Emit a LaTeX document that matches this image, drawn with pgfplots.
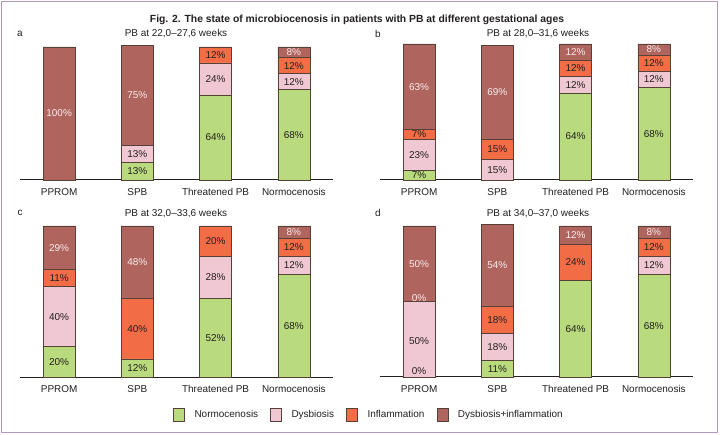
\documentclass[border=0pt]{standalone}
\usepackage{pgfplots}
\pgfplotsset{compat=1.18}
\usepackage{pgfplotstable}
\usepackage{fontspec}
\setmainfont{Liberation Sans}
\definecolor{cn}{RGB}{185,218,125}
\definecolor{cd}{RGB}{240,200,212}
\definecolor{ci}{RGB}{242,108,70}
\definecolor{cdi}{RGB}{176,100,94}
\definecolor{edge}{RGB}{85,65,55}
\definecolor{txt}{RGB}{35,31,32}
\definecolor{lighttxt}{RGB}{250,236,236}
\definecolor{framecol}{RGB}{180,152,192}

% segment values (percent) per category: x = 0 PPROM, 1 SPB, 2 Threatened PB, 3 Normocenosis
\pgfplotstableread{
x n d i di
0 0 0 0 100
1 13 13 0 75
2 64 24 12 0
3 68 12 12 8
}\tabA
\pgfplotstableread{
x n d i di
0 7 23 7 63
1 0 15 15 69
2 64 12 12 12
3 68 12 12 8
}\tabB
\pgfplotstableread{
x n d i di
0 20 40 11 29
1 12 0 40 48
2 52 28 20 0
3 68 12 12 8
}\tabC
\pgfplotstableread{
x n d i di
0 0 50 0 50
1 11 18 18 54
2 64 0 24 12
3 68 12 12 8
}\tabD

% label positions (segment middles) and texts
\pgfplotstableread{
x y lab
1 6.5 13\%
1 19.5 13\%
2 32 64\%
2 76 24\%
2 94 12\%
3 34 68\%
3 74 12\%
3 86 12\%
}\labAd
\pgfplotstableread{
x y lab
0 50 100\%
1 63.5 75\%
3 96 8\%
}\labAl
\pgfplotstableread{
x y lab
0 3.5 7\%
0 18.5 23\%
0 33.5 7\%
1 7.5 15\%
1 22.5 15\%
2 32 64\%
2 70 12\%
2 82 12\%
3 34 68\%
3 74 12\%
3 86 12\%
}\labBd
\pgfplotstableread{
x y lab
0 68.5 63\%
1 64.5 69\%
2 94 12\%
3 96 8\%
}\labBl
\pgfplotstableread{
x y lab
0 10 20\%
0 40 40\%
0 65.5 11\%
1 6 12\%
1 32 40\%
2 26 52\%
2 66 28\%
2 90 20\%
3 34 68\%
3 74 12\%
3 86 12\%
}\labCd
\pgfplotstableread{
x y lab
0 85.5 29\%
1 76 48\%
3 96 8\%
}\labCl
\pgfplotstableread{
x y lab
0 4.2 0\%
0 24 50\%
1 5.5 11\%
1 20 18\%
1 38 18\%
2 32 64\%
2 76 24\%
3 34 68\%
3 74 12\%
3 86 12\%
}\labDd
\pgfplotstableread{
x y lab
0 52.2 0\%
0 75 50\%
1 74 54\%
2 94 12\%
3 96 8\%
}\labDl

\pgfplotsset{
  panel/.style={
    scale only axis, width=313bp, xmin=-0.5, xmax=3.5, ymin=0, ymax=100,
    ybar stacked, bar width=32bp, clip=false,
    axis x line*=bottom, axis y line=none,
    x axis line style={line width=1bp, draw=txt},
    xtick={0,1,2,3}, xticklabels={PPROM,SPB,Threatened PB,Normocenosis},
    ytick=\empty,
    major tick length=0pt,
    xticklabel style={font=\fontsize{10}{12}\selectfont, text=txt, yshift=-5bp},
  },
  lblaxis/.style={
    scale only axis, width=313bp, xmin=-0.5, xmax=3.5, ymin=0, ymax=100,
    axis lines=none, xtick=\empty, ytick=\empty, clip=false,
  },
  lbl/.style={draw=none, mark=none, nodes near coords, point meta=explicit symbolic,
    every node near coord/.append style={anchor=center, inner sep=0pt,
      font=\fontsize{10}{12}\selectfont, text=#1}},
  seg/.style={fill=#1, draw=edge, line width=0.7bp},
  legimg/.style={fill=#1, draw=edge, line width=0.7bp,
    legend image code/.code={\draw[##1] (0bp,-6.3bp) rectangle (11bp,6.3bp);
      \path[draw=none, fill=none] (0bp,0bp) -- (19bp,0bp);}},
}

\begin{document}
\begin{tikzpicture}
\useasboundingbox (0,0) rectangle (720bp,435bp);
\draw[framecol, line width=1.3bp] (1.5bp,2.5bp) rectangle (717.5bp,433.5bp);

\node[font=\bfseries\fontsize{10.4}{12}\selectfont, text=txt] at (357bp,415bp) {Fig. 2. The state of microbiocenosis in patients with PB at different gestational ages};

\node[font=\fontsize{10}{12}\selectfont, text=txt] at (20bp,401bp) {a};
\node[font=\fontsize{10}{12}\selectfont, text=txt] at (378bp,401bp) {b};
\node[font=\fontsize{10}{12}\selectfont, text=txt] at (20bp,222bp) {c};
\node[font=\fontsize{10}{12}\selectfont, text=txt] at (378bp,222bp) {d};
\node[font=\fontsize{10}{12}\selectfont, text=txt] at (176bp,401bp) {PB at 22,0–27,6 weeks};
\node[font=\fontsize{10}{12}\selectfont, text=txt] at (538bp,401bp) {PB at 28,0–31,6 weeks};
\node[font=\fontsize{10}{12}\selectfont, text=txt] at (176bp,221bp) {PB at 32,0–33,6 weeks};
\node[font=\fontsize{10}{12}\selectfont, text=txt] at (538bp,221bp) {PB at 34,0–37,0 weeks};

% panel a
\begin{axis}[panel, at={(20bp,255bp)}, anchor=south west, height=133bp]
\addplot[seg=cn] table[x=x,y=n] {\tabA};
\addplot[seg=cd] table[x=x,y=d] {\tabA};
\addplot[seg=ci] table[x=x,y=i] {\tabA};
\addplot[seg=cdi] table[x=x,y=di] {\tabA};
\end{axis}
\begin{axis}[lblaxis, at={(20bp,255bp)}, anchor=south west, height=133bp]
\addplot[lbl=txt] table[x=x,y=y,meta=lab] {\labAd};
\addplot[lbl=lighttxt] table[x=x,y=y,meta=lab] {\labAl};
\end{axis}

% panel b
\begin{axis}[panel, at={(380bp,255bp)}, anchor=south west, height=136bp]
\addplot[seg=cn] table[x=x,y=n] {\tabB};
\addplot[seg=cd] table[x=x,y=d] {\tabB};
\addplot[seg=ci] table[x=x,y=i] {\tabB};
\addplot[seg=cdi] table[x=x,y=di] {\tabB};
\end{axis}
\begin{axis}[lblaxis, at={(380bp,255bp)}, anchor=south west, height=136bp]
\addplot[lbl=txt] table[x=x,y=y,meta=lab] {\labBd};
\addplot[lbl=lighttxt] table[x=x,y=y,meta=lab] {\labBl};
\end{axis}

% panel c
\begin{axis}[panel, at={(20bp,58bp)}, anchor=south west, height=151bp,
  legend columns=4,
  legend style={at={(1.115,-0.25)}, anchor=center, draw=none, fill=none,
    font=\fontsize{10}{12}\selectfont, text=txt,
    /tikz/every even column/.append style={column sep=10bp}},
  legend cell align=left]
\addplot[seg=cn, forget plot] table[x=x,y=n] {\tabC};
\addplot[seg=cd, forget plot] table[x=x,y=d] {\tabC};
\addplot[seg=ci, forget plot] table[x=x,y=i] {\tabC};
\addplot[seg=cdi, forget plot] table[x=x,y=di] {\tabC};
\addlegendimage{legimg=cn}
\addlegendentry{Normocenosis}
\addlegendimage{legimg=cd}
\addlegendentry{Dysbiosis}
\addlegendimage{legimg=ci}
\addlegendentry{Inflammation}
\addlegendimage{legimg=cdi}
\addlegendentry{Dysbiosis+inflammation}
\end{axis}
\begin{axis}[lblaxis, at={(20bp,58bp)}, anchor=south west, height=151bp]
\addplot[lbl=txt] table[x=x,y=y,meta=lab] {\labCd};
\addplot[lbl=lighttxt] table[x=x,y=y,meta=lab] {\labCl};
\end{axis}

% panel d
\begin{axis}[panel, at={(380bp,58bp)}, anchor=south west, height=151bp]
\addplot[seg=cn] table[x=x,y=n] {\tabD};
\addplot[seg=cd] table[x=x,y=d] {\tabD};
\addplot[seg=ci] table[x=x,y=i] {\tabD};
\addplot[seg=cdi] table[x=x,y=di] {\tabD};
\end{axis}
\begin{axis}[lblaxis, at={(380bp,58bp)}, anchor=south west, height=151bp]
\addplot[lbl=txt] table[x=x,y=y,meta=lab] {\labDd};
\addplot[lbl=lighttxt] table[x=x,y=y,meta=lab] {\labDl};
\end{axis}
\end{tikzpicture}
\end{document}
